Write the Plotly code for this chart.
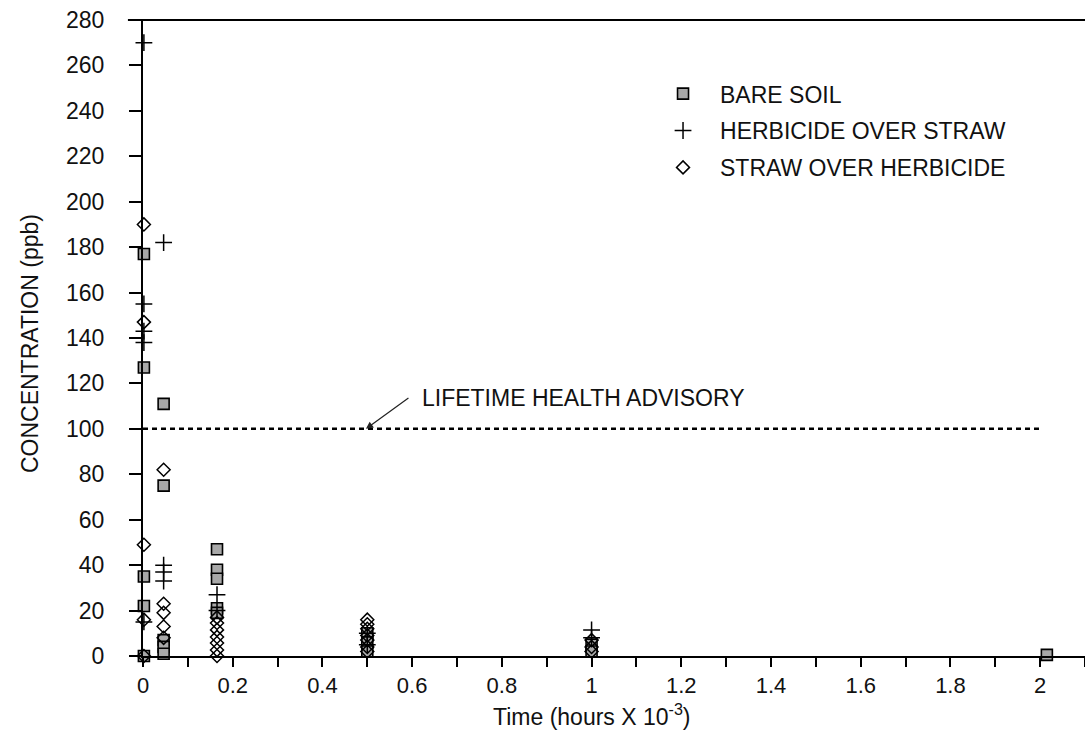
import plotly.graph_objects as go

# Sampling times (hours x 10^-3)
bare_t = [0.002, 0.002, 0.002, 0.002, 0.002,
          0.046, 0.046, 0.046, 0.046, 0.046,
          0.165, 0.165, 0.165, 0.165, 0.165,
          0.5, 0.5, 0.5,
          1.0, 1.0,
          2.015]
bare_c = [177, 127, 35, 22, 0,
          111, 75, 7, 4, 1,
          47, 38, 34, 21, 19,
          10, 6, 2,
          5, 2,
          0.5]

herb_t = [0.002, 0.002, 0.002, 0.002, 0.002,
          0.046, 0.046, 0.046, 0.046,
          0.165, 0.165,
          0.5, 0.5,
          1.0, 1.0]
herb_c = [270, 155, 143, 138, 15,
          182, 40, 37, 33,
          27, 20,
          10, 5,
          11.5, 8]

straw_t = [0.002, 0.002, 0.002, 0.002, 0.002,
           0.046, 0.046, 0.046, 0.046, 0.046,
           0.165, 0.165, 0.165, 0.165, 0.165, 0.165, 0.165,
           0.5, 0.5, 0.5, 0.5, 0.5, 0.5, 0.5,
           1.0, 1.0, 1.0]
straw_c = [190, 147, 49, 16, 0,
           82, 23, 19, 13, 8,
           17, 14.5, 11.5, 8.4, 5.7, 2.6, 0,
           16, 14, 12, 9, 7, 4, 2,
           7, 4, 2]

advisory_level = 100
advisory_end = 2.005

x_tickvals = [0, 0.2, 0.4, 0.6, 0.8, 1.0, 1.2, 1.4, 1.6, 1.8, 2.0]
x_ticktext = ["0", "0.2", "0.4", "0.6", "0.8", "1", "1.2", "1.4", "1.6", "1.8", "2"]

FONT = "Liberation Sans, Arial, sans-serif"

fig = go.Figure()

fig.add_trace(go.Scatter(
    x=bare_t, y=bare_c, mode="markers", name="BARE SOIL",
    legendgroup="a", cliponaxis=False,
    marker=dict(symbol="square", size=11, color="#a8a8a8",
                line=dict(color="black", width=1.6)),
))
fig.add_trace(go.Scatter(
    x=herb_t, y=herb_c, mode="markers", name="HERBICIDE OVER STRAW",
    legendgroup="b", cliponaxis=False,
    marker=dict(symbol="cross-thin-open", size=12, color="black",
                line=dict(color="black", width=1.5)),
))
fig.add_trace(go.Scatter(
    x=straw_t, y=straw_c, mode="markers", name="STRAW OVER HERBICIDE",
    legendgroup="c", cliponaxis=False,
    marker=dict(symbol="diamond-open", size=10, color="black",
                line=dict(color="black", width=1.5)),
))

# Health advisory reference line
fig.add_shape(type="line", xref="x", yref="y",
              x0=0, x1=advisory_end, y0=advisory_level, y1=advisory_level,
              line=dict(color="black", width=2.5, dash="5px,4px"))

# Top frame line
fig.add_shape(type="line", xref="paper", yref="paper",
              x0=-0.016, x1=1, y0=1, y1=1,
              line=dict(color="black", width=2))

fig.add_annotation(x=0.6176, y=113.6, xref="x", yref="y",
                   text="LIFETIME HEALTH ADVISORY", showarrow=False,
                   xanchor="left", yanchor="middle",
                   font=dict(family=FONT, size=23, color="#111"))
fig.add_annotation(x=0.497, y=advisory_level, xref="x", yref="y",
                   text="", showarrow=True, ax=44, ay=-32,
                   arrowhead=2, arrowsize=1.2, arrowwidth=1.2,
                   arrowcolor="#222")

fig.add_annotation(x=1.0, y=-0.092, xref="x", yref="paper",
                   text="Time (hours X 10<sup>-3</sup>)", showarrow=False,
                   xanchor="center", yanchor="middle",
                   font=dict(family=FONT, size=23, color="#111"))
fig.add_annotation(x=-0.12, y=0.492, xref="paper", yref="paper",
                   text="CONCENTRATION (ppb)", showarrow=False, textangle=-90,
                   xanchor="center", yanchor="middle",
                   font=dict(family=FONT, size=23, color="#111"))

axis_common = dict(showline=True, linewidth=2, linecolor="black",
                   ticks="outside", tickwidth=2, tickcolor="black",
                   showgrid=False, zeroline=False)

fig.update_xaxes(range=[0, 2.1], tickvals=x_tickvals, ticktext=x_ticktext,
                 ticklen=9,
                 tickfont=dict(family=FONT, size=22, color="#111"),
                 minor=dict(dtick=0.1, tick0=0, ticks="outside", ticklen=9,
                            tickwidth=2, tickcolor="black", showgrid=False),
                 **axis_common)
fig.update_yaxes(range=[0, 280], dtick=20, tick0=0, ticklen=12,
                 ticklabelstandoff=20,
                 tickfont=dict(family=FONT, size=23, color="#111"),
                 **axis_common)

fig.update_layout(
    width=1085, height=753,
    margin=dict(l=143, r=0, t=20, b=97),
    paper_bgcolor="white", plot_bgcolor="white",
    showlegend=True,
    legend=dict(x=0.534, y=0.918, xanchor="left", yanchor="top",
                bgcolor="rgba(0,0,0,0)", itemwidth=64, tracegroupgap=4,
                font=dict(family=FONT, size=23, color="#111")),
)

fig.write_html("out.html")
